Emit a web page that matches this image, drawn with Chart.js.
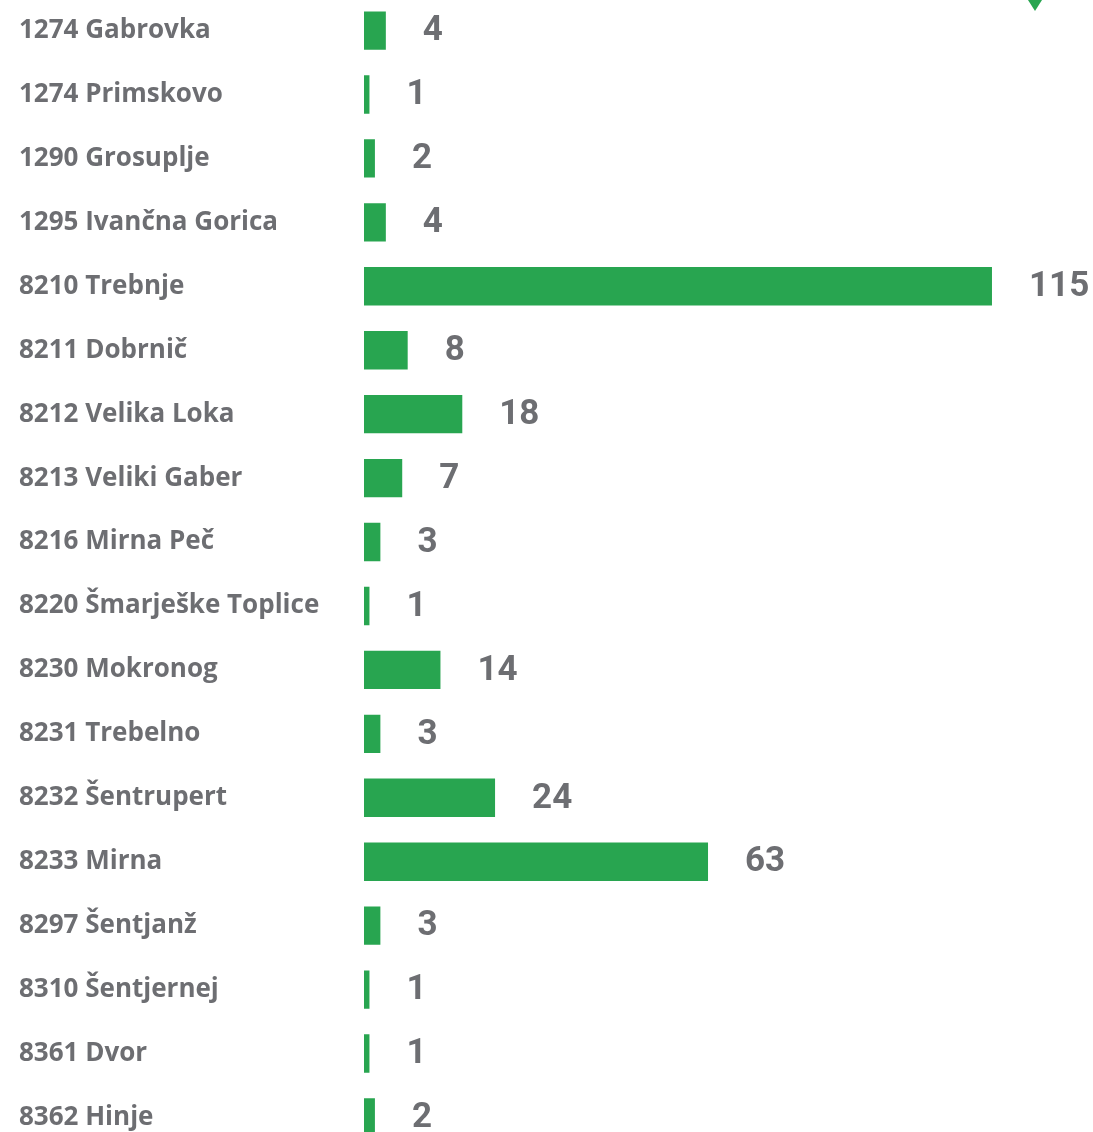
<!DOCTYPE html>
<html>
<head>
<meta charset="utf-8">
<script src="https://cdn.jsdelivr.net/npm/chart.js@4"></script>
<style>
  html, body { margin: 0; padding: 0; background: #fff; overflow: hidden; }
  #wrap { position: absolute; left: 0; top: -17px; width: 1093px; height: 1182px; }
  .marker {
    position: absolute; left: 1028px; top: 0;
    width: 0; height: 0;
    border-left: 7px solid transparent; border-right: 7px solid transparent;
    border-top: 11px solid #28a550;
  }
</style>
</head>
<body>
<div id="wrap"><canvas id="chart"></canvas></div>
<div class="marker"></div>
<script>
const places = [
  '1274 Gabrovka', '1274 Primskovo', '1290 Grosuplje', '1295 Ivančna Gorica',
  '8210 Trebnje', '8211 Dobrnič', '8212 Velika Loka', '8213 Veliki Gaber',
  '8216 Mirna Peč', '8220 Šmarješke Toplice', '8230 Mokronog', '8231 Trebelno',
  '8232 Šentrupert', '8233 Mirna', '8297 Šentjanž', '8310 Šentjernej',
  '8361 Dvor', '8362 Hinje'
];
const counts = [4, 1, 2, 4, 115, 8, 18, 7, 3, 1, 14, 3, 24, 63, 3, 1, 1, 2];

const green = '#28a550';
const grey = '#6d6e72';

const valueLabels = {
  id: 'valueLabels',
  afterDatasetsDraw(chart) {
    const ctx = chart.ctx;
    const meta = chart.getDatasetMeta(0);
    ctx.save();
    ctx.fillStyle = grey;
    ctx.font = 'bold 35px Roboto';
    ctx.textAlign = 'left';
    ctx.textBaseline = 'middle';
    meta.data.forEach((bar, i) => {
      ctx.fillText(String(counts[i]), bar.x + 37, bar.y + 1);
    });
    ctx.restore();
  }
};

new Chart(document.getElementById('chart'), {
  type: 'bar',
  data: {
    labels: places,
    datasets: [{
      data: counts,
      backgroundColor: green,
      borderWidth: 0,
      categoryPercentage: 1,
      barPercentage: 0.6
    }]
  },
  options: {
    indexAxis: 'y',
    responsive: true,
    maintainAspectRatio: false,
    animation: false,
    layout: { padding: { left: 19, right: 0, top: 0, bottom: 0 } },
    plugins: {
      legend: { display: false },
      tooltip: { enabled: false }
    },
    scales: {
      x: {
        display: false,
        min: 0,
        max: 133.5
      },
      y: {
        grid: { display: false, drawBorder: false },
        border: { display: false },
        ticks: {
          crossAlign: 'far',
          color: grey,
          font: { family: '"Open Sans"', weight: 'bold', size: 26 },
          padding: 0
        },
        afterFit(scale) { scale.width = 345; }
      }
    }
  },
  plugins: [valueLabels]
});
</script>
</body>
</html>
